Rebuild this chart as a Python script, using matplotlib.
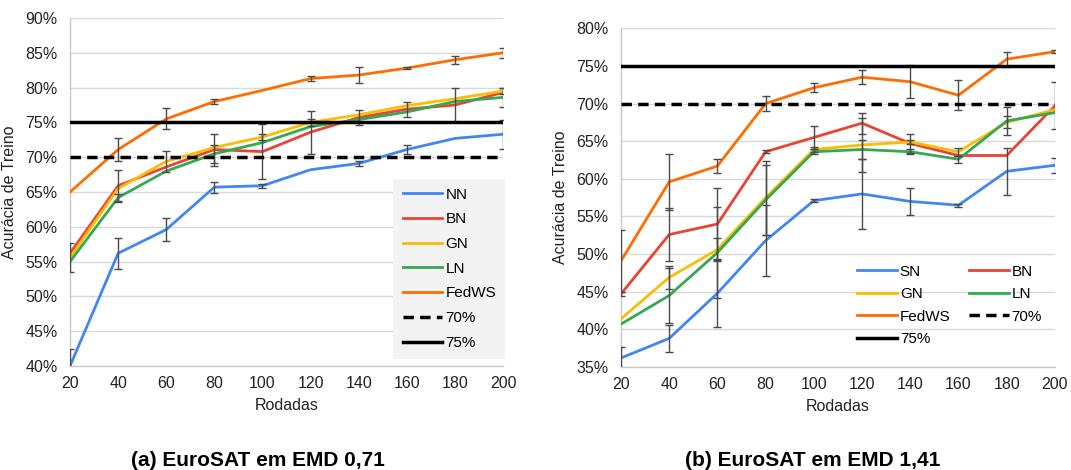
"""EuroSAT training accuracy per round for several normalisation methods."""

import matplotlib
matplotlib.use("Agg")
import matplotlib.pyplot as plt
from matplotlib.lines import Line2D
import numpy as np

plt.rcParams["font.family"] = ["Liberation Sans", "DejaVu Sans"]

ROUNDS = [20, 40, 60, 80, 100, 120, 140, 160, 180, 200]

# (a) EMD 0,71
A_NN = [40.0, 56.2, 59.6, 65.7, 65.9, 68.2, 69.1, 71.1, 72.7, 73.3]
A_BN = [56.2, 65.9, 68.6, 71.1, 70.8, 73.6, 75.7, 76.9, 77.5, 79.3]
A_GN = [55.6, 65.5, 69.4, 71.4, 72.9, 75.0, 76.1, 77.4, 78.4, 79.5]
A_LN = [55.0, 64.2, 68.0, 70.5, 72.1, 74.4, 75.4, 76.5, 78.0, 78.6]
A_FEDWS = [65.0, 71.1, 75.5, 78.0, 79.6, 81.3, 81.8, 82.8, 84.0, 85.0]
A_NN_ERR = [2.5, 2.2, 1.7, 0.8, 0.3, 0.0, 0.3, 0.6, 0.0, 2.1]
A_BN_ERR = [0.0, 2.3, 0.0, 2.3, 3.9, 3.1, 1.1, 1.1, 2.5, 0.0]
A_GN_ERR = [2.1, 0.0, 1.5, 0.0, 0.4, 0.5, 0.0, 0.0, 0.0, 0.4]
A_LN_ERR = [0.0, 0.5, 0.0, 1.3, 0.0, 0.0, 0.0, 0.0, 0.0, 1.4]
A_FEDWS_ERR = [0.0, 1.6, 1.5, 0.3, 0.0, 0.3, 1.1, 0.1, 0.55, 0.7]

# (b) EMD 1,41
B_SN = [36.2, 38.8, 44.8, 51.8, 57.1, 58.0, 57.0, 56.5, 61.0, 61.8]
B_BN = [44.7, 52.6, 54.0, 63.6, 65.5, 67.4, 64.7, 63.1, 63.1, 69.7]
B_GN = [41.4, 46.9, 50.6, 57.5, 63.9, 64.5, 64.9, 63.6, 67.5, 69.2]
B_LN = [40.7, 44.5, 50.2, 57.2, 63.6, 63.9, 63.6, 62.6, 67.7, 68.8]
B_FEDWS = [49.1, 59.6, 61.7, 70.0, 72.1, 73.5, 72.9, 71.1, 75.9, 76.9]
B_SN_ERR = [1.4, 1.8, 4.5, 4.7, 0.2, 4.7, 1.8, 0.2, 3.1, 1.0]
B_BN_ERR = [0.3, 3.5, 4.8, 0.2, 1.5, 1.4, 1.3, 0.0, 0.0, 3.1]
B_GN_ERR = [0.0, 1.5, 1.5, 4.9, 0.3, 3.6, 0.3, 0.5, 0.8, 0.0]
B_LN_ERR = [0.0, 3.6, 6.0, 4.6, 0.3, 1.3, 0.3, 0.5, 1.9, 0.0]
B_FEDWS_ERR = [4.1, 3.7, 0.9, 1.0, 0.6, 0.9, 2.2, 2.0, 1.0, 0.2]

COLORS = {
    "blue": "#4285F4",
    "red": "#EA4335",
    "yellow": "#FBBC04",
    "green": "#34A853",
    "orange": "#FF6D01",
}
ERR_COLOR = "#4a4a4a"
GRID_COLOR = "#d9d9d9"
DASH = (0, (3.0, 1.8))
TICK_SIZE = 11.5
LABEL_SIZE = 11.5
LEGEND_SIZE = 11


def draw_panel(ax, series, ylim):
    for label, values, errors, color in series:
        ax.plot(ROUNDS, values, color=color, lw=2.0, label=label, zorder=3)
    for label, values, errors, color in series:
        x = [r for r, e in zip(ROUNDS, errors) if e > 0]
        y = [v for v, e in zip(values, errors) if e > 0]
        e = [e for e in errors if e > 0]
        ax.errorbar(x, y, yerr=e, fmt="none", ecolor=ERR_COLOR, elinewidth=1.0,
                    capsize=3, capthick=1.0, zorder=4)
    ax.axhline(70, color="black", lw=2.5, ls=DASH, zorder=5)
    ax.axhline(75, color="black", lw=2.5, zorder=5)

    ax.set_xlim(20, 200)
    ax.set_ylim(*ylim)
    ax.set_xticks(ROUNDS)
    ticks = np.arange(ylim[0], ylim[1] + 1, 5)
    ax.set_yticks(ticks)
    ax.set_yticklabels([f"{v:.0f}%" for v in ticks])
    ax.grid(axis="y", color=GRID_COLOR, lw=1.0, zorder=0)
    ax.set_axisbelow(True)
    for side in ("top", "right"):
        ax.spines[side].set_visible(False)
    for side in ("left", "bottom"):
        ax.spines[side].set_color("#c8c8c8")
        ax.spines[side].set_linewidth(1.0)
    ax.tick_params(length=0, labelsize=TICK_SIZE, colors="#222222")
    ax.tick_params(axis="y", pad=9)
    ax.tick_params(axis="x", pad=7)
    ax.set_xlabel("Rodadas", fontsize=LABEL_SIZE, color="#222222", labelpad=5)
    ax.set_ylabel("Acurácia de Treino", fontsize=LABEL_SIZE, color="#222222", labelpad=6)


def ref_handles():
    return [
        Line2D([], [], color="black", lw=2.5, ls=DASH),
        Line2D([], [], color="black", lw=2.5),
    ]


fig = plt.figure(figsize=(10.71, 4.70), dpi=100)
ax_a = fig.add_axes([0.0654, 0.2213, 0.4043, 0.7404])
ax_b = fig.add_axes([0.5798, 0.2191, 0.4052, 0.7207])

series_a = [
    ("NN", A_NN, A_NN_ERR, COLORS["blue"]),
    ("BN", A_BN, A_BN_ERR, COLORS["red"]),
    ("GN", A_GN, A_GN_ERR, COLORS["yellow"]),
    ("LN", A_LN, A_LN_ERR, COLORS["green"]),
    ("FedWS", A_FEDWS, A_FEDWS_ERR, COLORS["orange"]),
]
draw_panel(ax_a, series_a, (40, 90))
handles = [Line2D([], [], color=c, lw=2.0) for _, _, _, c in series_a] + ref_handles()
labels = [s[0] for s in series_a] + ["70%", "75%"]
leg = ax_a.legend(handles, labels, loc="lower right", bbox_to_anchor=(1.005, 0.02),
                  frameon=True, fancybox=False, facecolor="#f3f3f3", edgecolor="none",
                  framealpha=1.0, fontsize=LEGEND_SIZE, handlelength=2.6,
                  handletextpad=0.2, labelspacing=0.7, borderpad=0.6,
                  borderaxespad=0.0)
leg.set_zorder(6)

series_b = [
    ("SN", B_SN, B_SN_ERR, COLORS["blue"]),
    ("BN", B_BN, B_BN_ERR, COLORS["red"]),
    ("GN", B_GN, B_GN_ERR, COLORS["yellow"]),
    ("LN", B_LN, B_LN_ERR, COLORS["green"]),
    ("FedWS", B_FEDWS, B_FEDWS_ERR, COLORS["orange"]),
]
draw_panel(ax_b, series_b, (35, 80))
hb = [Line2D([], [], color=c, lw=2.0) for _, _, _, c in series_b] + ref_handles()
lb = [s[0] for s in series_b] + ["70%", "75%"]
# legend reads row by row: SN BN / GN LN / FedWS 70% / 75%
order = [0, 2, 4, 6, 1, 3, 5]
leg_b = ax_b.legend([hb[i] for i in order], [lb[i] for i in order], ncol=2,
                    loc="upper left", bbox_to_anchor=(0.53, 0.32), frameon=False,
                    fontsize=LEGEND_SIZE, handlelength=2.6, handletextpad=0.2,
                    labelspacing=0.55, columnspacing=1.2, borderaxespad=0.0)
leg_b.set_zorder(6)

fig.text(0.241, 0.0, "(a) EuroSAT em EMD 0,71", ha="center", va="bottom",
         fontsize=15, fontweight="bold")
fig.text(0.759, 0.0, "(b) EuroSAT em EMD 1,41", ha="center", va="bottom",
         fontsize=15, fontweight="bold")

fig.savefig("out.png", dpi=100)
